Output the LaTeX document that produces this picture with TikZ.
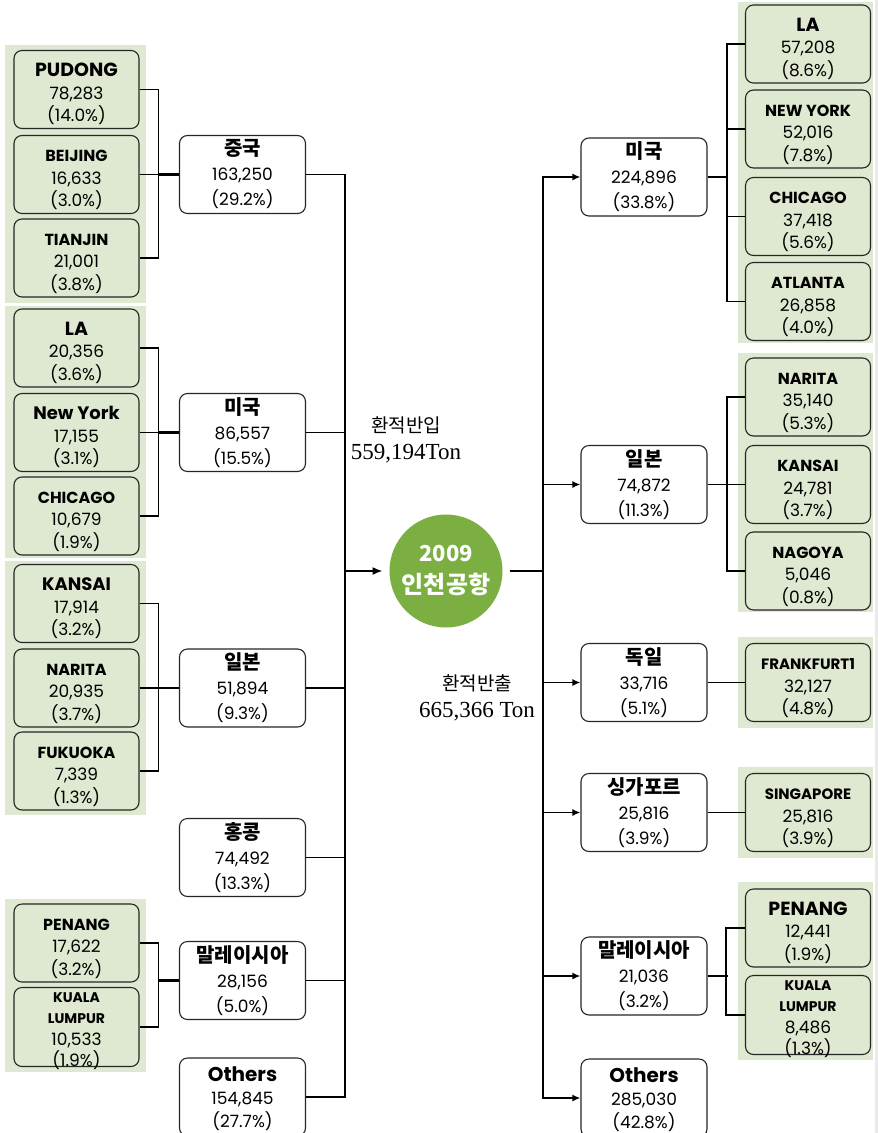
\documentclass[tikz,border=0pt]{standalone}
\usepackage{fontspec}
\setmainfont{Poppins}
\newfontfamily\kofont{Noto Sans CJK KR}
\newfontfamily\tonfont{Liberation Serif}
\usetikzlibrary{arrows.meta}

\definecolor{panelgreen}{RGB}{223,232,208}
\definecolor{hubgreen}{RGB}{123,175,66}
\definecolor{edgegray}{RGB}{234,234,234}

\newcommand{\kor}[1]{{\kofont\bfseries\fontsize{20}{20}\selectfont #1}}
\newcommand{\cty}[2][16]{{\fontsize{#1}{#1}\selectfont\bfseries #2}}

\tikzset{
  city/.style={draw=black!85, fill=panelgreen, rounded corners=8pt, line width=1.1pt,
    minimum width=125pt, minimum height=78pt, inner sep=0pt, align=center,
    text height=71pt, text depth=7pt, font=\fontsize{17}{22.5}\selectfont},
  land/.style={draw=black!85, fill=white, rounded corners=8pt, line width=1.1pt,
    minimum width=126pt, minimum height=78pt, inner sep=0pt, align=center,
    font=\fontsize{17}{25}\selectfont},
  othertext/.style={text height=69.5pt, text depth=8.5pt, font=\fontsize{17}{23}\selectfont},
  twoline/.style={text height=79pt, text depth=-1pt, font=\fontsize{17}{21.5}\selectfont},
  panel/.style={fill=panelgreen, draw=none},
  link/.style={line width=1.3pt},
  feed/.style={line width=2.2pt},
  trunk/.style={line width=1.6pt},
  arr/.style={trunk, -{Latex[length=8pt,width=7pt]}},
  tonlabel/.style={align=center, inner sep=0pt, font=\fontsize{19}{27}\selectfont}
}

\begin{document}
\begin{tikzpicture}[x=1pt,y=-1pt]
  \useasboundingbox (0,0) rectangle (878,1133);
  \fill[edgegray] (875,0) rectangle (878,1133);

  % green panels, left
  \fill[panel] (5,45) rectangle (146,303);
  \fill[panel] (5,306) rectangle (146,558);
  \fill[panel] (5,561) rectangle (146,815);
  \fill[panel] (5,899) rectangle (146,1072);
  % green panels, right
  \fill[panel] (738,2) rectangle (873,343);
  \fill[panel] (738,353) rectangle (873,612);
  \fill[panel] (738,637) rectangle (873,728);
  \fill[panel] (738,767) rectangle (873,858);
  \fill[panel] (738,882) rectangle (873,1060);

  % hub
  \node[circle, fill=hubgreen, minimum size=113pt, inner sep=0pt, outer sep=7pt,
    text=white, align=center, font=\fontsize{22}{32}\selectfont] (hub) at (446,571)
    {{\kofont\bfseries\fontsize{22}{32}\selectfont 2009}\\{\kofont\bfseries\fontsize{24}{32}\selectfont 인천공항}};
  \node[tonlabel] (inlbl) at (406,440)
    {{\kofont\fontsize{19}{27}\selectfont 환적반입}\\{\tonfont\fontsize{23}{27}\selectfont 559,194Ton}};
  \node[tonlabel] (outlbl) at (477,698)
    {{\kofont\fontsize{19}{27}\selectfont 환적반출}\\{\tonfont\fontsize{23}{27}\selectfont 665,366 Ton}};

  % left cities
  \node[city] (pudong) at (76.5,89.5) {\cty[19]{PUDONG}\\78,283\\(14.0\%)};
  \node[city] (beijing) at (76.5,174.5) {\cty{BEIJING}\\16,633\\(3.0\%)};
  \node[city] (tianjin) at (76.5,258) {\cty{TIANJIN}\\21,001\\(3.8\%)};
  \node[city] (lla) at (76.5,348) {\cty[19]{LA}\\20,356\\(3.6\%)};
  \node[city] (lny) at (76.5,432.5) {\cty[18]{New York}\\17,155\\(3.1\%)};
  \node[city] (lchi) at (76.5,516) {\cty{CHICAGO}\\10,679\\(1.9\%)};
  \node[city] (lkan) at (76.5,603.5) {\cty[18]{KANSAI}\\17,914\\(3.2\%)};
  \node[city] (lnar) at (76.5,688) {\cty{NARITA}\\20,935\\(3.7\%)};
  \node[city] (lfuk) at (76.5,771) {\cty{FUKUOKA}\\7,339\\(1.3\%)};
  \node[city] (lpen) at (76.5,943) {\cty{PENANG}\\17,622\\(3.2\%)};
  \node[city, twoline] (lkl) at (76.5,1027) {\cty[14]{KUALA}\\\cty[14]{LUMPUR}\\10,533\\(1.9\%)};

  % left countries
  \node[land] (lcn) at (242.5,174.5) {\kor{중국}\\163,250\\(29.2\%)};
  \node[land] (lus) at (242.5,432.5) {\kor{미국}\\86,557\\(15.5\%)};
  \node[land] (ljp) at (242.5,688) {\kor{일본}\\51,894\\(9.3\%)};
  \node[land] (lhk) at (242.5,857.5) {\kor{홍콩}\\74,492\\(13.3\%)};
  \node[land] (lmy) at (242.5,980.5) {\kor{말레이시아}\\28,156\\(5.0\%)};
  \node[land, othertext] (loth) at (242.5,1097) {\cty[20]{Others}\\154,845\\(27.7\%)};

  % right countries
  \node[land] (rus) at (644,177) {\kor{미국}\\224,896\\(33.8\%)};
  \node[land] (rjp) at (644,484.5) {\kor{일본}\\74,872\\(11.3\%)};
  \node[land] (rde) at (644,682.5) {\kor{독일}\\33,716\\(5.1\%)};
  \node[land] (rsg) at (644,812.5) {\kor{싱가포르}\\25,816\\(3.9\%)};
  \node[land] (rmy) at (644,976) {\kor{말레이시아}\\21,036\\(3.2\%)};
  \node[land, othertext] (roth) at (644,1098) {\cty[20]{Others}\\285,030\\(42.8\%)};

  % right cities
  \node[city] (rla) at (808,44) {\cty[19]{LA}\\57,208\\(8.6\%)};
  \node[city] (rny) at (808,129) {\cty{NEW YORK}\\52,016\\(7.8\%)};
  \node[city] (rchi) at (808,216.5) {\cty{CHICAGO}\\37,418\\(5.6\%)};
  \node[city] (ratl) at (808,301.5) {\cty{ATLANTA}\\26,858\\(4.0\%)};
  \node[city] (rnar) at (808,397) {\cty{NARITA}\\35,140\\(5.3\%)};
  \node[city] (rkan) at (808,484.5) {\cty{KANSAI}\\24,781\\(3.7\%)};
  \node[city] (rnag) at (808,571) {\cty{NAGOYA}\\5,046\\(0.8\%)};
  \node[city] (rfra) at (808,682.5) {\cty[15]{FRANKFURT1}\\32,127\\(4.8\%)};
  \node[city] (rsgp) at (808,812.5) {\cty[15]{SINGAPORE}\\25,816\\(3.9\%)};
  \node[city] (rpen) at (808,928) {\cty[19]{PENANG}\\12,441\\(1.9\%)};
  \node[city, twoline] (rkl) at (808,1015) {\cty[14]{KUALA}\\\cty[14]{LUMPUR}\\8,486\\(1.3\%)};

  % left brackets
  \draw[link] (pudong.east) -- ++(19,0) |- (tianjin.east);
  \draw[link] (beijing.east) -- (lcn.west);
  \draw[feed] (lcn.west) -- ++(-21,0);
  \draw[link] (lla.east) -- ++(19,0) |- (lchi.east);
  \draw[link] (lny.east) -- (lus.west);
  \draw[feed] (lus.west) -- ++(-21,0);
  \draw[link] (lkan.east) -- ++(19,0) |- (lfuk.east);
  \draw[link] (lnar.east) -- (ljp.west);
  \draw[feed] (ljp.west) -- ++(-21,0);
  \draw[link] (lpen.east) -- ++(19,0) |- (lkl.east);
  \draw[feed] (lmy.west) -- ++(-21,0);

  % inbound trunk
  \coordinate (inL) at (345,571);
  \draw[trunk] (lcn.east) -| (inL |- loth.east) -- (loth.east);
  \foreach \n in {lus,ljp,lhk,lmy}
    \draw[link] (\n.east) -- (\n.east -| inL);
  \draw[arr, -{Latex[length=10pt,width=8pt]}] (inL) -- (hub.west);

  % outbound trunk
  \coordinate (outR) at (543,571);
  \draw[feed] (hub.east) -- (outR);
  \foreach \n in {rus,rjp,rde,rsg,rmy,roth}
    \draw[arr] (outR) |- (\n.west);

  % right brackets
  \draw[link] (rla.west) -- ++(-18,0) |- (ratl.west);
  \draw[link] (rny.west) -- ++(-18,0);
  \draw[link] (rchi.west) -- ++(-18,0);
  \draw[feed] (rus.east) -- ++(20,0);
  \draw[link] (rnar.west) -- ++(-18,0) |- (rnag.west);
  \draw[link] (rjp.east) -- (rkan.west);
  \draw[link] (rde) -- (rfra);
  \draw[link] (rsg) -- (rsgp);
  \draw[link] (rpen.west) -- ++(-19,0) |- (rkl.west);
  \draw[feed] (rmy.east) -- ++(20,0);
\end{tikzpicture}
\end{document}
